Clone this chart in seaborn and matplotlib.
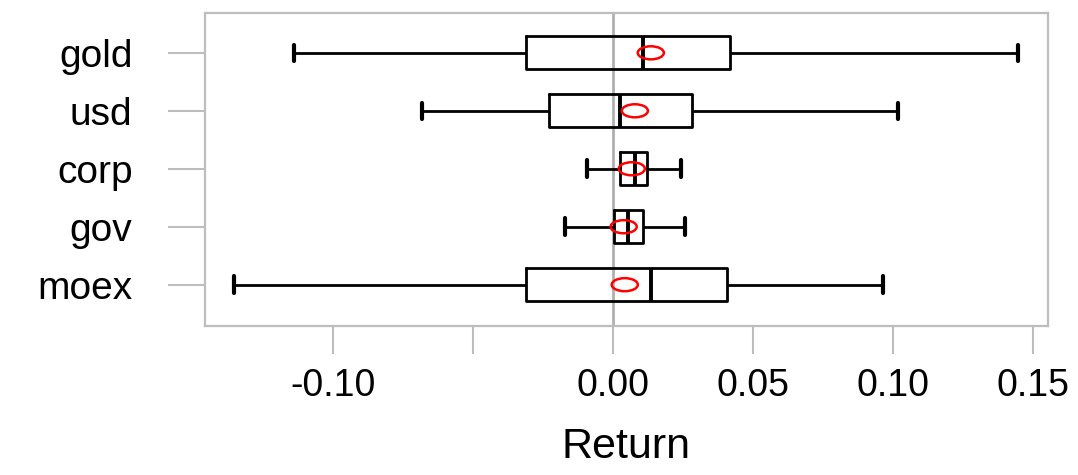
import numpy as np
import pandas as pd
import matplotlib
matplotlib.use("Agg")
import matplotlib.pyplot as plt
from matplotlib.markers import MarkerStyle
from matplotlib.transforms import Affine2D
import seaborn as sns

# five-number summaries (whiskers go to min / max)
assets = ["gold", "usd", "corp", "gov", "moex"]
low = [-0.1139, -0.0682, -0.0093, -0.0171, -0.1354]
q1 = [-0.0311, -0.0229, 0.0025, 0.0005, -0.0311]
median = [0.0107, 0.0027, 0.0080, 0.0055, 0.0136]
q3 = [0.0418, 0.0282, 0.0121, 0.0107, 0.0407]
high = [0.1446, 0.1018, 0.0243, 0.0257, 0.0964]
means = [0.0136, 0.0079, 0.0068, 0.0039, 0.0043]

xticks = [-0.10, -0.05, 0.00, 0.05, 0.10, 0.15]
xtick_labels = ["-0.10", "", "0.00", "0.05", "0.10", "0.15"]

rows = []
for i, a in enumerate(assets):
    for v in (low[i], q1[i], median[i], q3[i], high[i]):
        rows.append({"asset": a, "Return": v})
df = pd.DataFrame(rows)

sns.set_style("white")
plt.rcParams["font.family"] = ["Liberation Sans", "DejaVu Sans"]

fig = plt.figure(figsize=(10.78, 4.75), dpi=100)
ax = fig.add_axes([0.190, 0.314, 0.782, 0.659])

ax.axvline(0, color="#b0b0b0", lw=2, zorder=0)

sns.boxplot(data=df, x="Return", y="asset", order=assets, whis=(0, 100),
            fill=False, color="black", linecolor="black", width=0.57,
            linewidth=2.0, ax=ax,
            medianprops={"linewidth": 2.8},
            capprops={"linewidth": 3.0})

# mean as an open red ellipse
ell = MarkerStyle("o", transform=Affine2D().scale(2.0, 1.0))
sns.scatterplot(x=means, y=assets, marker=ell, s=9.4 ** 2,
                facecolor="none", edgecolor="red", linewidth=1.8,
                zorder=5, ax=ax, legend=False)

ax.set_xlim(-0.1457, 0.1554)
ax.set_ylim(4.71, -0.69)
ax.set_xticks(xticks)
ax.set_xticklabels(xtick_labels)
ax.set_xlabel("Return", fontsize=31, labelpad=17, color="black")
ax.set_ylabel("")

for s in ax.spines.values():
    s.set_color("#bdbdbd")
    s.set_linewidth(1.6)

ax.tick_params(axis="x", direction="out", length=20, width=1.5, color="#bdbdbd",
               labelsize=27, pad=10, bottom=True, labelcolor="black")
ax.tick_params(axis="y", direction="out", length=27, width=1.5, color="#bdbdbd",
               labelsize=28, pad=25, left=True, labelcolor="black")

fig.savefig("out.png", dpi=100)
